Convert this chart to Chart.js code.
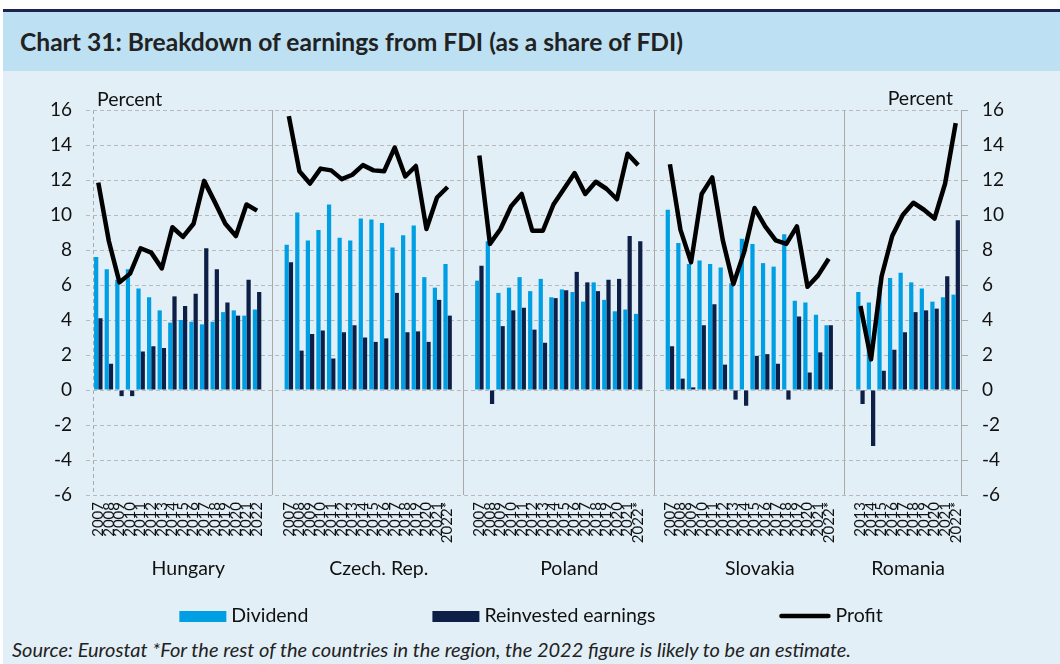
<!DOCTYPE html>
<html>
<head>
<meta charset="utf-8">
<script src="https://cdn.jsdelivr.net/npm/chart.js@4.4.1/dist/chart.umd.min.js"></script>
<style>
  body { margin: 0; width: 1060px; height: 664px; background: #fff; position: relative; overflow: hidden; font-family: Lato, sans-serif; }
  #panel { position: absolute; left: 3px; top: 9px; width: 1057px; height: 652px; background: #e2eff7; border-top: 3px solid #1c2350; }
  #head { height: 59px; background: #bde0f3; }
  #title { position: absolute; left: 20px; top: 12px; height: 59px; line-height: 59px; font-weight: bold; font-size: 24.6px; color: #222; white-space: nowrap; }
  #source { position: absolute; left: 12px; top: 637px; line-height: 24px; font-style: italic; font-size: 20px; color: #222; white-space: nowrap; }
  #chart { position: absolute; left: 0; top: 0; }
</style>
</head>
<body>
<div id="panel"><div id="head"></div></div>
<div id="title">Chart 31: Breakdown of earnings from FDI (as a share of FDI)</div>
<div id="source">Source: Eurostat *For the rest of the countries in the region, the 2022 figure is likely to be an estimate.</div>
<canvas id="chart" width="1060" height="664"></canvas>
<script>
// ---- Data ----
const countries = ["Hungary", "Czech. Rep.", "Poland", "Slovakia", "Romania"];

const hungaryYears = ["2007","2008","2009","2010","2011","2012","2013","2014","2015","2016","2017","2018","2019","2020","2021","2022"];
const czechYears = ["2007","2008","2009","2010","2011","2012","2013","2014","2015","2016","2017","2018","2019","2020","2021","2022*"];
const polandYears = ["2007","2008","2009","2010","2011","2012","2013","2014","2015","2016","2017","2018","2019","2020","2021","2022*"];
const slovakiaYears = ["2007","2008","2009","2010","2011","2012","2013","2014","2015","2016","2017","2018","2019","2020","2021","2022*"];
const romaniaYears = ["2013","2014","2015","2016","2017","2018","2019","2020","2021","2022*"];

const hungaryDividend = [7.6, 6.9, 6.3, 6.9, 5.8, 5.3, 4.55, 3.85, 4.0, 3.9, 3.75, 3.9, 4.45, 4.55, 4.25, 4.6];
const hungaryReinvested = [4.1, 1.5, -0.35, -0.35, 2.2, 2.5, 2.4, 5.35, 4.8, 5.5, 8.1, 6.9, 5.0, 4.25, 6.3, 5.6];
const hungaryProfit = [11.85, 8.5, 6.15, 6.65, 8.1, 7.85, 6.95, 9.3, 8.75, 9.5, 11.95, 10.75, 9.5, 8.8, 10.6, 10.25];

const czechDividend = [8.3, 10.15, 8.55, 9.15, 10.6, 8.7, 8.55, 9.8, 9.75, 9.55, 8.15, 8.85, 9.4, 6.45, 5.85, 7.2];
const czechReinvested = [7.3, 2.25, 3.2, 3.4, 1.8, 3.3, 3.7, 3.0, 2.75, 2.95, 5.55, 3.3, 3.35, 2.75, 5.15, 4.25];
const czechProfit = [15.65, 12.5, 11.8, 12.65, 12.55, 12.05, 12.3, 12.85, 12.55, 12.5, 13.85, 12.2, 12.8, 9.2, 11.0, 11.6];

const polandDividend = [6.25, 8.5, 5.55, 5.85, 6.45, 5.65, 6.35, 5.3, 5.75, 5.6, 5.05, 6.15, 5.15, 4.5, 4.6, 4.35];
const polandReinvested = [7.1, -0.8, 3.65, 4.55, 4.7, 3.45, 2.7, 5.25, 5.7, 6.75, 6.15, 5.65, 6.3, 6.35, 8.8, 8.5];
const polandProfit = [13.4, 8.35, 9.2, 10.5, 11.2, 9.1, 9.1, 10.6, 11.5, 12.4, 11.2, 11.9, 11.5, 10.9, 13.5, 12.85];

const slovakiaDividend = [10.3, 8.4, 7.2, 7.4, 7.2, 7.0, 6.1, 8.65, 8.35, 7.25, 7.05, 8.9, 5.1, 5.0, 4.3, 3.7];
const slovakiaReinvested = [2.5, 0.65, 0.15, 3.7, 4.9, 1.45, -0.55, -0.9, 1.95, 2.05, 1.5, -0.55, 4.2, 1.0, 2.15, 3.7];
const slovakiaProfit = [12.9, 9.15, 7.3, 11.2, 12.15, 8.55, 6.05, 7.85, 10.4, 9.35, 8.55, 8.35, 9.35, 5.9, 6.55, 7.5];

const romaniaDividend = [5.6, 5.0, 5.9, 6.4, 6.7, 6.15, 5.8, 5.05, 5.3, 5.45];
const romaniaReinvested = [-0.8, -3.2, 1.1, 2.3, 3.3, 4.45, 4.55, 4.65, 6.5, 9.7];
const romaniaProfit = [4.8, 1.75, 6.5, 8.8, 10.0, 10.7, 10.3, 9.8, 11.8, 15.25];

const yTicks = [-6, -4, -2, 0, 2, 4, 6, 8, 10, 12, 14, 16];

// ---- Join the countries, two empty slots between groups ----
const yearGroups = [hungaryYears, czechYears, polandYears, slovakiaYears, romaniaYears];
const dividendGroups = [hungaryDividend, czechDividend, polandDividend, slovakiaDividend, romaniaDividend];
const reinvestedGroups = [hungaryReinvested, czechReinvested, polandReinvested, slovakiaReinvested, romaniaReinvested];
const profitGroups = [hungaryProfit, czechProfit, polandProfit, slovakiaProfit, romaniaProfit];

function joinGroups(groups, filler) {
  const out = [];
  groups.forEach((g, i) => {
    out.push(...g);
    if (i < groups.length - 1) out.push(filler, filler);
  });
  return out;
}

const labels = joinGroups(yearGroups, "");
const dividend = joinGroups(dividendGroups, null);
const reinvested = joinGroups(reinvestedGroups, null);
const profit = joinGroups(profitGroups, null);

// group spans (label centred over years + trailing blanks) and separator indices
const spans = [];
const separators = [];
let pos = 0;
yearGroups.forEach((g, i) => {
  const last = i === yearGroups.length - 1;
  const len = g.length + (last ? 0 : 2);
  spans.push({ name: countries[i], from: pos, to: pos + len - 1 });
  if (!last) separators.push(pos + g.length + 1);
  pos += len;
});

const FONT = "Lato";
const TXT = "#111";

const extras = {
  id: "extras",
  afterDraw(chart) {
    const { ctx, chartArea } = chart;
    const x = chart.scales.x;
    ctx.save();
    ctx.fillStyle = TXT;
    ctx.font = `19.5px ${FONT}`;
    ctx.textBaseline = "alphabetic";

    // "Percent" unit labels
    ctx.textAlign = "left";
    ctx.fillText("Percent", chartArea.left + 4, 106);
    ctx.textAlign = "right";
    ctx.fillText("Percent", chartArea.right - 8, 105);

    // country names
    ctx.textAlign = "center";
    const half = (x.getPixelForValue(1) - x.getPixelForValue(0)) / 2;
    spans.forEach((s) => {
      const cx = (x.getPixelForValue(s.from) - half + x.getPixelForValue(s.to) + half) / 2;
      ctx.fillText(s.name, cx, 575);
    });

    // legend
    const items = [
      { ds: chart.data.datasets[0], kind: "box", sw: 47 },
      { ds: chart.data.datasets[1], kind: "box", sw: 47 },
      { ds: chart.data.datasets[2], kind: "line", sw: 51 },
    ];
    const gapTxt = 5;
    const gapItem = 124;
    const widths = items.map((it) => it.sw + gapTxt + ctx.measureText(it.ds.label).width);
    const total = widths.reduce((a, b) => a + b, 0) + gapItem * (items.length - 1);
    let lx = 531 - total / 2;
    const ly = 616;
    ctx.textAlign = "left";
    items.forEach((it, i) => {
      if (it.kind === "box") {
        ctx.fillStyle = it.ds.backgroundColor;
        ctx.fillRect(lx, ly - 5, it.sw, 11);
      } else {
        ctx.strokeStyle = it.ds.borderColor;
        ctx.lineWidth = 4.5;
        ctx.lineCap = "round";
        ctx.beginPath();
        ctx.moveTo(lx + 2, ly);
        ctx.lineTo(lx + it.sw - 2, ly);
        ctx.stroke();
      }
      ctx.fillStyle = TXT;
      ctx.fillText(it.ds.label, lx + it.sw + gapTxt, 622);
      lx += widths[i] + gapItem;
    });
    ctx.restore();
  },
};

const tickFont = { family: FONT, size: 19 };

new Chart(document.getElementById("chart"), {
  type: "bar",
  data: {
    labels,
    datasets: [
      { label: "Dividend", data: dividend, backgroundColor: "#009fe3", order: 1 },
      { label: "Reinvested earnings", data: reinvested, backgroundColor: "#0d1f47", order: 1 },
      {
        type: "line", label: "Profit", data: profit, borderColor: "#000", backgroundColor: "#000",
        borderWidth: 4.5, pointRadius: 0, tension: 0, spanGaps: false, borderJoinStyle: "round", order: 0,
      },
    ],
  },
  options: {
    responsive: false,
    animation: false,
    layout: { padding: { top: 110, bottom: 74, left: 0, right: 0 } },
    datasets: { bar: { categoryPercentage: 0.8, barPercentage: 1 } },
    plugins: { legend: { display: false }, tooltip: { enabled: false } },
    scales: {
      x: {
        offset: true,
        grid: {
          offset: true,
          drawTicks: false,
          color: (c) => (c.index === 0 || separators.includes(c.index) ? "#a9a9a9" : "rgba(0,0,0,0)"),
        },
        border: { display: false, dash: (c) => (c.index === 0 ? [4, 3] : []) },
        ticks: { autoSkip: false, minRotation: 90, maxRotation: 90, padding: 7, color: TXT, font: { family: FONT, size: 15 } },
        afterFit(s) { s.height = 95; },
      },
      y: {
        position: "left",
        min: -6, max: 16,
        afterBuildTicks(s) { s.ticks = yTicks.map((v) => ({ value: v })); },
        ticks: { padding: 14, color: TXT, font: tickFont },
        grid: { color: "#b9b9b9", tickLength: 7, tickBorderDash: [4, 3] },
        border: { display: false, dash: [4, 3] },
        afterFit(s) { s.width = 93; },
      },
      y2: {
        position: "right",
        min: -6, max: 16,
        afterBuildTicks(s) { s.ticks = yTicks.map((v) => ({ value: v })); },
        ticks: { padding: 14, color: TXT, font: tickFont },
        grid: { drawOnChartArea: false, tickLength: 7, tickColor: "#a9a9a9" },
        border: { display: true, color: "#a9a9a9", width: 1 },
        afterFit(s) { s.width = 99; },
      },
    },
  },
  plugins: [extras],
});
</script>
</body>
</html>
